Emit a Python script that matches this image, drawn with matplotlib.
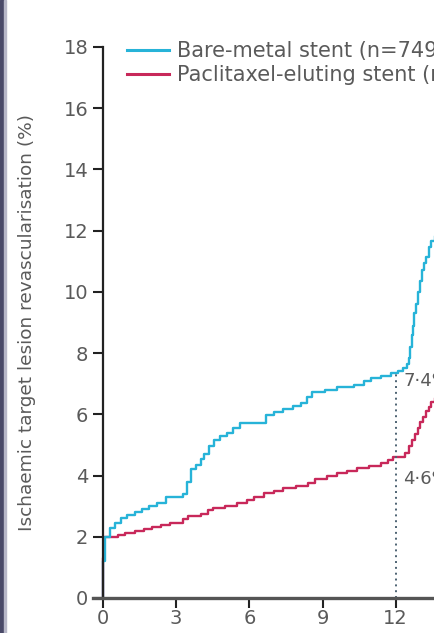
import matplotlib
matplotlib.use("Agg")
from matplotlib import pyplot as plt
from matplotlib.patches import Rectangle

plt.rcParams["font.family"] = ["DejaVu Sans"]

# Kaplan-Meier style step data (months, cumulative %)
bms_months = [0, 0, 0.1, 0.3, 0.5, 0.75, 1.0, 1.3, 1.6, 1.9, 2.2, 2.6, 3.3, 3.45, 3.6,
              3.8, 4.0, 4.15, 4.35, 4.55, 4.8, 5.1, 5.35, 5.6, 6.7, 7.0, 7.4, 7.8, 8.1,
              8.35, 8.55, 9.1, 9.6, 10.3, 10.7, 11.0, 11.4, 11.8, 12.1, 12.3, 12.45,
              12.55, 12.6, 12.65, 12.7, 12.76, 12.82, 12.9, 12.98, 13.07, 13.15, 13.25,
              13.35, 13.45, 13.6]
bms_values = [0, 1.2, 2.0, 2.3, 2.45, 2.6, 2.7, 2.8, 2.9, 3.0, 3.1, 3.3, 3.4, 3.8, 4.2,
              4.35, 4.55, 4.7, 4.95, 5.15, 5.3, 5.4, 5.55, 5.72, 5.98, 6.08, 6.18, 6.28,
              6.38, 6.55, 6.73, 6.8, 6.88, 6.96, 7.08, 7.18, 7.26, 7.34, 7.42, 7.5, 7.65,
              7.85, 8.2, 8.6, 8.9, 9.3, 9.6, 10.0, 10.35, 10.7, 10.95, 11.15, 11.45,
              11.65, 11.8]

pes_months = [0, 0, 0.05, 0.6, 0.9, 1.3, 1.7, 2.0, 2.4, 2.75, 3.3, 3.5, 4.0, 4.3, 4.5,
              5.0, 5.5, 5.9, 6.2, 6.6, 7.0, 7.4, 7.9, 8.4, 8.7, 9.2, 9.6, 10.0, 10.4,
              10.9, 11.4, 11.7, 11.9, 12.4, 12.55, 12.65, 12.78, 12.9, 13.0, 13.12,
              13.25, 13.35, 13.45, 13.6]
pes_values = [0, 1.3, 2.0, 2.06, 2.12, 2.18, 2.25, 2.32, 2.4, 2.45, 2.58, 2.68, 2.76,
              2.86, 2.94, 3.02, 3.1, 3.2, 3.3, 3.42, 3.5, 3.58, 3.66, 3.76, 3.9, 3.98,
              4.08, 4.16, 4.25, 4.32, 4.4, 4.5, 4.62, 4.75, 4.95, 5.15, 5.35, 5.55,
              5.75, 5.9, 6.1, 6.25, 6.4, 6.5]

labels = ["Bare-metal stent (n=749)", "Paclitaxel-eluting stent (n=1499)"]
x_ticks = [0, 3, 6, 9, 12]
y_ticks = list(range(0, 19, 2))
landmark = 12
landmark_labels = ["7\u00b74%", "4\u00b76%"]

blue = "#27b3d8"
red = "#c8285a"
text_gray = "#5a5a5a"

fig = plt.figure(figsize=(4.34, 6.33), dpi=100)
ax = fig.add_axes([0.2147, 0.0553, 0.787, 0.8705])

ax.step(pes_months, pes_values, where="post", color=red, lw=1.7, label=labels[1])
ax.step(bms_months, bms_values, where="post", color=blue, lw=1.7, label=labels[0])
ax.vlines(landmark, 0, 7.42, colors="#4d6272", linestyles=(0, (1, 2)), lw=1.4)

ax.text(12.3, 7.1, landmark_labels[0], color=text_gray, fontsize=13, va="center")
ax.text(12.3, 3.9, landmark_labels[1], color=text_gray, fontsize=13, va="center")

ax.set_xlim(-0.4, 13.6)
ax.set_ylim(0, 18)
ax.set_xticks(x_ticks)
ax.set_yticks(y_ticks)

for side in ["top", "right"]:
    ax.spines[side].set_visible(False)
ax.spines["left"].set_position(("data", 0))
ax.spines["left"].set_color("#222222")
ax.spines["left"].set_linewidth(1.6)
ax.spines["bottom"].set_color("#555555")
ax.spines["bottom"].set_linewidth(2.4)

ax.tick_params(axis="both", colors="#222222", labelcolor=text_gray, labelsize=14,
               length=7, width=1.5)
ax.tick_params(axis="y", pad=3.6)
ax.tick_params(axis="x", pad=1)
ax.set_ylabel("Ischaemic target lesion revascularisation (%)", color=text_gray,
              fontsize=13.3)
ax.yaxis.set_label_coords(-0.168, 0.5)

handles, labs = ax.get_legend_handles_labels()
leg = ax.legend(handles[::-1], labs[::-1], loc="upper left",
                bbox_to_anchor=(127 / 434, 1 - 41 / 633), bbox_transform=fig.transFigure,
                frameon=False, fontsize=15, borderpad=0, borderaxespad=0,
                handlelength=2.0, handletextpad=0.4, labelspacing=0.2)
for t in leg.get_texts():
    t.set_color(text_gray)
for line in leg.get_lines():
    line.set_linewidth(2.2)

# dark page border at the left edge
fig.patches.append(Rectangle((0, 0), 4 / 434, 1, transform=fig.transFigure,
                             color="#4a4a68", zorder=0))
fig.patches.append(Rectangle((4 / 434, 0), 2 / 434, 1, transform=fig.transFigure,
                             color="#b8b8c8", zorder=0))

fig.savefig("out.png", dpi=100)
plt.close(fig)
